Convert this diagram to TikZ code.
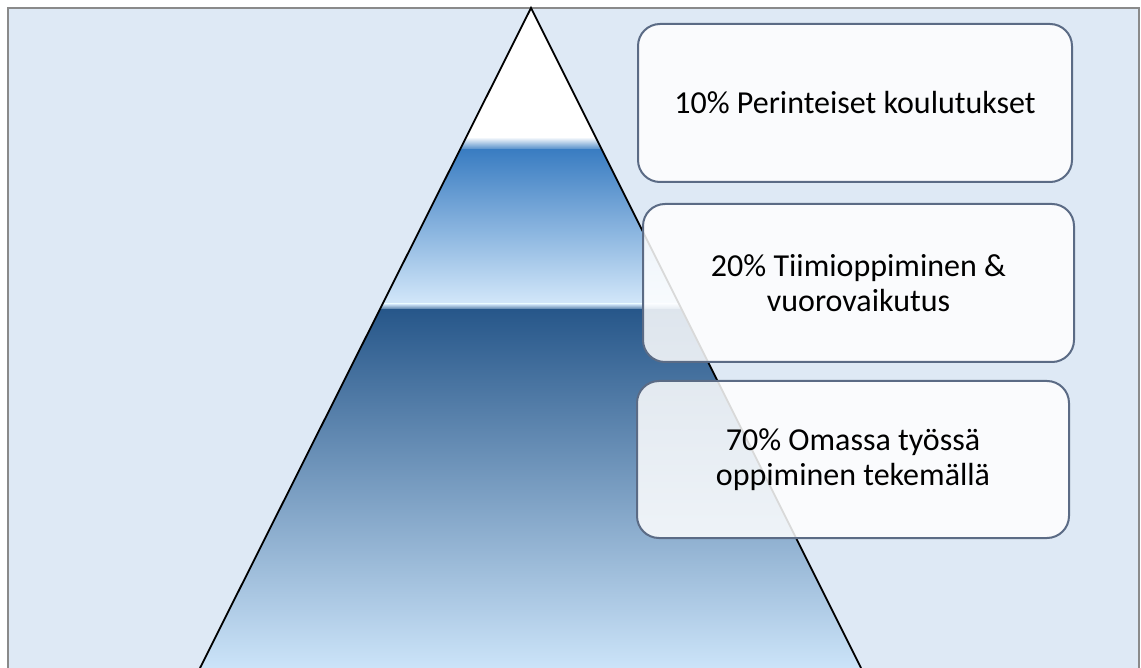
\documentclass[tikz,border=0pt]{standalone}
\usepackage{fontspec}
\setmainfont{Carlito}
\definecolor{bgblue}{HTML}{DEE9F5}
\definecolor{framegray}{HTML}{8A8A8A}
\definecolor{boxedge}{HTML}{5B6B85}
\definecolor{midblue}{HTML}{3A7DC2}
\definecolor{midlight}{HTML}{D4E8FA}
\definecolor{darkblue}{HTML}{27578A}
\definecolor{botlight}{HTML}{CCE4F9}
\tikzset{
  infobox/.style={draw=boxedge, line width=2pt, rounded corners=22pt,
    fill=white, fill opacity=0.85, text opacity=1, align=center,
    font=\fontsize{32}{35}\selectfont, inner sep=0pt},
}
\begin{document}
\begin{tikzpicture}[x=1pt,y=-1pt]
\useasboundingbox (0,0) rectangle (1141,668);
\fill[white] (0,0) rectangle (1141,668);
\draw[framegray, line width=2pt, fill=bgblue] (8,8) rectangle (1139,700);
% pyramid
\coordinate (apex) at (531,8);
\coordinate (bl) at (200,668);
\coordinate (br) at (861,668);
\begin{scope}
  \clip (apex) -- (bl) -- (br) -- cycle;
  \fill[white] (150,0) rectangle (950,138);
  \shade[top color=white, bottom color=midblue] (150,137) rectangle (950,151);
  \shade[top color=midblue, bottom color=midlight] (150,150) rectangle (950,305);
  \shade[top color=midlight, bottom color=darkblue] (150,304) rectangle (950,311);
  \shade[top color=darkblue, bottom color=botlight] (150,310) rectangle (950,669);
\end{scope}
\draw[black, line width=1.8pt, line join=miter] (bl) -- (apex) -- (br);
% boxes
\node[infobox, minimum width=434pt, minimum height=158pt] (b1) at (855,103) {10\% Perinteiset koulutukset};
\node[infobox, minimum width=431pt, minimum height=158pt] (b2) at (858.5,283) {20\% Tiimioppiminen \&\\vuorovaikutus};
\node[infobox, minimum width=432pt, minimum height=157pt] (b3) at (853,459.5) {70\% Omassa työssä\\oppiminen tekemällä};
\end{tikzpicture}
\end{document}
